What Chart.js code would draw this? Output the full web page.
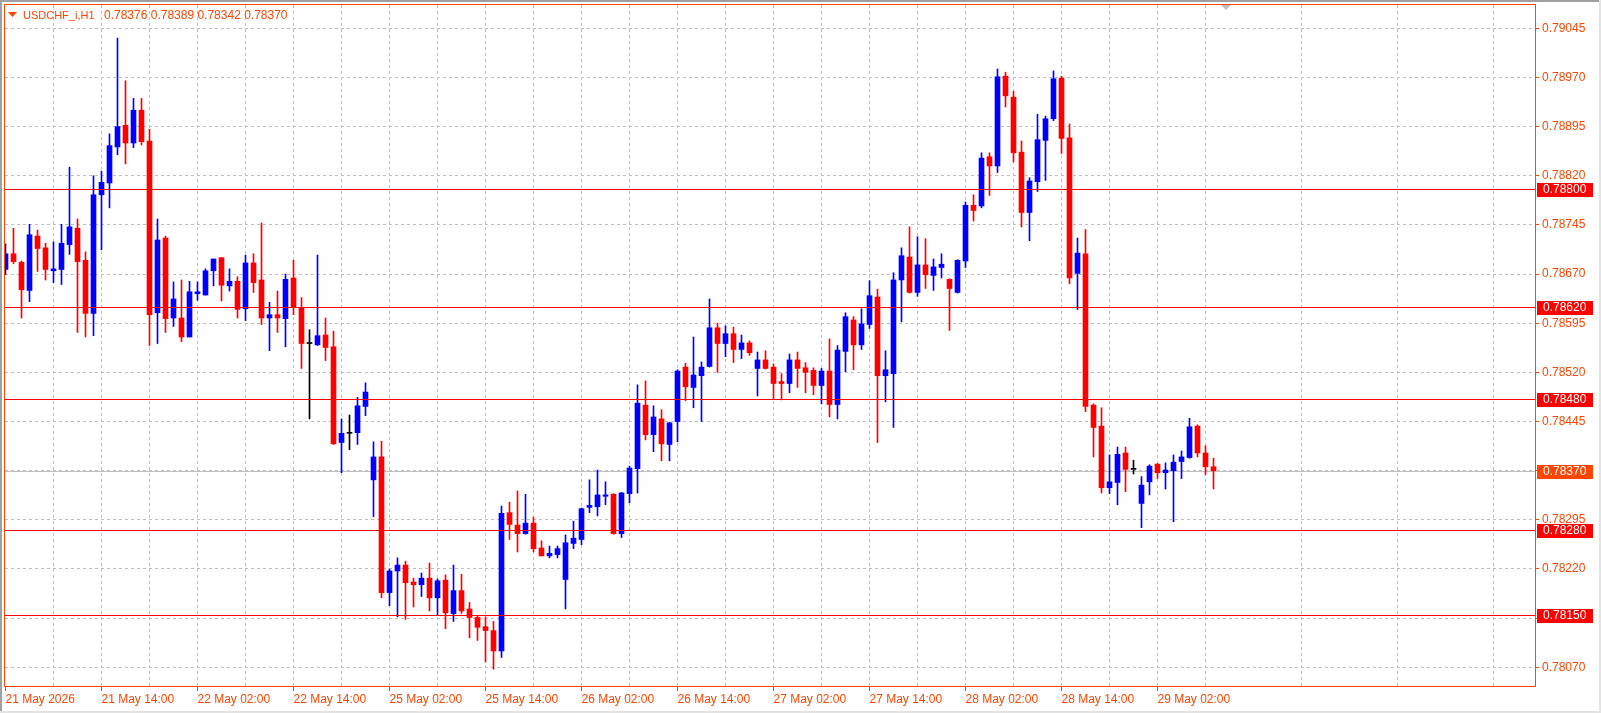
<!DOCTYPE html>
<html><head><meta charset="utf-8">
<script src="https://cdn.jsdelivr.net/npm/chart.js@4.4.1/dist/chart.umd.min.js"></script>
<style>
html,body{margin:0;padding:0;background:#fff;}
#wrap{position:relative;width:1601px;height:713px;overflow:hidden;}
canvas{display:block;}
.edge{position:absolute;pointer-events:none;}
</style></head><body>
<div id="wrap"><canvas id="c" width="1601" height="713"></canvas>
<div class="edge" style="left:0;top:0;width:1601px;height:2px;background:#A0A0A0"></div>
<div class="edge" style="left:0;top:0;width:2px;height:713px;background:#A0A0A0"></div>
<div class="edge" style="left:0;top:711px;width:1601px;height:2px;background:#E3E3E3"></div>
<div class="edge" style="left:1599px;top:0;width:2px;height:713px;background:#E3E3E3"></div>
</div>
<script>
const symbolName = 'USDCHF_i,H1';

const openP = [
0.78677,0.78701,0.78688,0.78645,0.78728,0.78710,0.78675,0.78677,0.78715,0.78740,
0.78691,0.78610,0.78791,0.78809,0.78864,0.78897,0.78870,0.78920,0.78873,0.78611,
0.78725,0.78603,0.78603,0.78574,0.78640,0.78638,0.78675,0.78695,0.78652,0.78659,
0.78617,0.78687,0.78661,0.78603,0.78608,0.78602,0.78664,0.78619,0.78564,0.78562,
0.78577,0.78559,0.78413,0.78427,0.78428,0.78468,0.78356,0.78391,0.78184,0.78217,
0.78226,0.78200,0.78196,0.78206,0.78176,0.78203,0.78152,0.78187,0.78159,0.78146,
0.78132,0.78126,0.78095,0.78306,0.78287,0.78274,0.78290,0.78252,0.78240,0.78242,
0.78204,0.78259,0.78265,0.78314,0.78315,0.78331,0.78334,0.78274,0.78335,0.78373,
0.78470,0.78425,0.78449,0.78410,0.78445,0.78528,0.78497,0.78515,0.78529,0.78588,
0.78564,0.78579,0.78555,0.78565,0.78526,0.78539,0.78528,0.78506,0.78503,0.78539,
0.78527,0.78523,0.78500,0.78522,0.78471,0.78552,0.78600,0.78562,0.78593,0.78635,
0.78515,0.78518,0.78661,0.78696,0.78642,0.78684,0.78668,0.78680,0.78662,0.78642,
0.78690,0.78775,0.78774,0.78849,0.78835,0.78972,0.78940,0.78856,0.78764,0.78811,
0.78874,0.78907,0.78969,0.78878,0.78671,0.78701,0.78470,0.78438,0.78344,0.78352,
0.78397,0.78372,0.78320,0.78353,0.78380,0.78367,0.78370,0.78384,0.78390,0.78438,
0.78397,0.78376];
const highP = [
0.78716,0.78740,0.78690,0.78746,0.78737,0.78717,0.78719,0.78746,0.78833,0.78754,
0.78704,0.78820,0.78827,0.78884,0.79030,0.78965,0.78938,0.78938,0.78891,0.78754,
0.78728,0.78658,0.78661,0.78659,0.78658,0.78678,0.78693,0.78695,0.78678,0.78666,
0.78699,0.78701,0.78748,0.78627,0.78644,0.78670,0.78691,0.78634,0.78585,0.78699,
0.78603,0.78583,0.78449,0.78455,0.78482,0.78504,0.78414,0.78415,0.78220,0.78237,
0.78232,0.78206,0.78214,0.78229,0.78205,0.78211,0.78226,0.78212,0.78169,0.78149,
0.78147,0.78140,0.78316,0.78322,0.78339,0.78334,0.78299,0.78263,0.78255,0.78255,
0.78272,0.78293,0.78313,0.78356,0.78371,0.78353,0.78335,0.78337,0.78377,0.78501,
0.78507,0.78469,0.78463,0.78444,0.78524,0.78534,0.78574,0.78536,0.78632,0.78595,
0.78591,0.78589,0.78577,0.78568,0.78551,0.78553,0.78533,0.78518,0.78548,0.78551,
0.78535,0.78527,0.78526,0.78571,0.78561,0.78611,0.78605,0.78617,0.78660,0.78647,
0.78553,0.78672,0.78710,0.78742,0.78727,0.78724,0.78693,0.78701,0.78663,0.78692,
0.78780,0.78791,0.78855,0.78855,0.78983,0.78978,0.78949,0.78873,0.78817,0.78914,
0.78911,0.78980,0.78972,0.78899,0.78725,0.78738,0.78472,0.78466,0.78394,0.78406,
0.78406,0.78386,0.78361,0.78379,0.78381,0.78382,0.78394,0.78400,0.78450,0.78440,
0.78408,0.78389];
const lowP = [
0.78669,0.78686,0.78603,0.78628,0.78674,0.78661,0.78657,0.78654,0.78700,0.78581,
0.78574,0.78576,0.78707,0.78771,0.78852,0.78838,0.78863,0.78867,0.78561,0.78564,
0.78581,0.78590,0.78567,0.78574,0.78630,0.78638,0.78652,0.78629,0.78644,0.78603,
0.78599,0.78642,0.78593,0.78553,0.78581,0.78559,0.78608,0.78526,0.78449,0.78561,
0.78538,0.78410,0.78367,0.78402,0.78410,0.78454,0.78300,0.78176,0.78164,0.78147,
0.78143,0.78162,0.78178,0.78156,0.78149,0.78129,0.78140,0.78152,0.78115,0.78111,
0.78078,0.78067,0.78085,0.78265,0.78246,0.78273,0.78246,0.78240,0.78237,0.78237,
0.78159,0.78251,0.78257,0.78306,0.78301,0.78318,0.78273,0.78268,0.78321,0.78336,
0.78417,0.78399,0.78385,0.78385,0.78414,0.78477,0.78466,0.78445,0.78528,0.78520,
0.78544,0.78535,0.78541,0.78546,0.78484,0.78525,0.78480,0.78478,0.78489,0.78497,
0.78489,0.78486,0.78472,0.78452,0.78449,0.78521,0.78524,0.78555,0.78587,0.78413,
0.78475,0.78436,0.78597,0.78641,0.78636,0.78648,0.78645,0.78664,0.78584,0.78641,
0.78680,0.78751,0.78771,0.78790,0.78825,0.78925,0.78841,0.78742,0.78721,0.78796,
0.78813,0.78904,0.78854,0.78655,0.78616,0.78460,0.78391,0.78336,0.78335,0.78318,
0.78338,0.78365,0.78283,0.78333,0.78358,0.78342,0.78292,0.78358,0.78389,0.78391,
0.78364,0.78342];
const closeP = [
0.78701,0.78689,0.78646,0.78730,0.78709,0.78677,0.78678,0.78717,0.78742,0.78689,
0.78610,0.78791,0.78810,0.78866,0.78895,0.78870,0.78920,0.78872,0.78608,0.78722,
0.78602,0.78632,0.78574,0.78643,0.78643,0.78675,0.78693,0.78653,0.78659,0.78616,
0.78687,0.78657,0.78603,0.78608,0.78603,0.78662,0.78619,0.78564,0.78564,0.78576,
0.78558,0.78411,0.78427,0.78427,0.78469,0.78490,0.78391,0.78184,0.78217,0.78226,
0.78199,0.78196,0.78206,0.78176,0.78202,0.78153,0.78187,0.78156,0.78146,0.78131,
0.78126,0.78095,0.78305,0.78288,0.78274,0.78290,0.78251,0.78240,0.78244,0.78251,
0.78260,0.78267,0.78312,0.78317,0.78333,0.78333,0.78274,0.78336,0.78374,0.78473,
0.78425,0.78452,0.78411,0.78443,0.78522,0.78498,0.78516,0.78528,0.78588,0.78564,
0.78579,0.78555,0.78565,0.78550,0.78539,0.78526,0.78503,0.78503,0.78539,0.78526,
0.78520,0.78500,0.78522,0.78471,0.78554,0.78605,0.78562,0.78594,0.78637,0.78515,
0.78524,0.78661,0.78698,0.78642,0.78684,0.78669,0.78681,0.78685,0.78648,0.78691,
0.78775,0.78767,0.78847,0.78835,0.78971,0.78942,0.78855,0.78764,0.78812,0.78875,
0.78907,0.78968,0.78877,0.78664,0.78702,0.78468,0.78436,0.78344,0.78353,0.78395,
0.78372,0.78372,0.78348,0.78377,0.78367,0.78371,0.78383,0.78391,0.78437,0.78397,
0.78376,0.78370];

const xTickLabels = ['21 May 2026','21 May 14:00','22 May 02:00','22 May 14:00','25 May 02:00',
  '25 May 14:00','26 May 02:00','26 May 14:00','27 May 02:00','27 May 14:00','28 May 02:00',
  '28 May 14:00','29 May 02:00'];
const yTickValues = [0.79045,0.78970,0.78895,0.78820,0.78745,0.78670,0.78595,0.78520,
  0.78445,0.78370,0.78295,0.78220,0.78145,0.78070];
const levelLines = [0.78800,0.78620,0.78480,0.78280,0.78150];
const bidPrice = 0.78370;

const ORANGE = '#FF4500';
const GRID = '#C0C0C0';
const FONT = "'Liberation Sans', Arial, sans-serif";

const idx = openP.map((_, i) => i);
const candleColor = idx.map(i => closeP[i] > openP[i] ? '#0000FF' : (closeP[i] < openP[i] ? '#FF0000' : '#000000'));
const xGridTicks = [];
for (let v = 0; v <= 186; v += 6) xGridTicks.push(v);

const overlay = {
  id: 'overlay',
  beforeDatasetsDraw(chart) {
    const {ctx, chartArea: a, scales: {y}} = chart;
    ctx.save();
    const yb = Math.round(y.getPixelForValue(bidPrice)) + 0.5;
    ctx.strokeStyle = GRID; ctx.lineWidth = 1;
    ctx.beginPath(); ctx.moveTo(a.left, yb); ctx.lineTo(a.right, yb); ctx.stroke();
    ctx.restore();
  },
  afterDatasetsDraw(chart) {
    const {ctx, chartArea: a, scales: {y}} = chart;
    ctx.save();
    ctx.strokeStyle = '#FF0000'; ctx.lineWidth = 1;
    levelLines.forEach(v => {
      const py = Math.round(y.getPixelForValue(v)) + 0.5;
      ctx.beginPath(); ctx.moveTo(a.left, py); ctx.lineTo(a.right, py); ctx.stroke();
    });
    ctx.restore();
  },
  afterDraw(chart) {
    const {ctx, chartArea: a, scales: {y}} = chart;
    ctx.save();
    ctx.strokeStyle = ORANGE; ctx.lineWidth = 1;
    ctx.strokeRect(a.left - 0.5, a.top - 0.5, a.right - a.left + 1, a.bottom - a.top + 1);
    ctx.font = '12px ' + FONT;
    ctx.textBaseline = 'middle'; ctx.textAlign = 'left';
    const box = (v, bg) => {
      const py = Math.round(y.getPixelForValue(v));
      ctx.fillStyle = bg;
      ctx.fillRect(a.right + 2, py - 6, 56, 14);
      ctx.fillStyle = '#FFFFFF';
      ctx.fillText(v.toFixed(5), a.right + 8, py + 1);
    };
    levelLines.forEach(v => box(v, '#FF0000'));
    box(bidPrice, ORANGE);
    ctx.fillStyle = ORANGE;
    ctx.beginPath(); ctx.moveTo(8, 12); ctx.lineTo(17, 12); ctx.lineTo(12.5, 17); ctx.closePath(); ctx.fill();
    const n = closeP.length - 1;
    ctx.font = '11px ' + FONT;
    ctx.fillText(symbolName, 23, 16);
    ctx.font = '12px ' + FONT;
    ctx.fillText([openP[n], highP[n], lowP[n], closeP[n]].map(v => v.toFixed(5)).join(' '), 104, 16);
    ctx.fillStyle = '#C0C0C0';
    ctx.beginPath(); ctx.moveTo(1221, 5); ctx.lineTo(1231, 5); ctx.lineTo(1226, 10); ctx.closePath(); ctx.fill();
    ctx.restore();
  }
};

new Chart(document.getElementById('c').getContext('2d'), {
  type: 'bar',
  data: {
    datasets: [
      { label: 'wick', data: idx.map(i => ({x: i, y: [lowP[i], highP[i]]})),
        backgroundColor: candleColor, barThickness: 1, grouped: false, borderWidth: 0, minBarLength: 1 },
      { label: 'body', data: idx.map(i => ({x: i, y: [openP[i], closeP[i]]})),
        backgroundColor: candleColor, barThickness: 5, grouped: false, borderWidth: 0, minBarLength: 1 }
    ]
  },
  options: {
    responsive: false, animation: false, devicePixelRatio: 1,
    layout: {padding: {left: 5, top: 5, right: 0, bottom: 0}},
    plugins: {legend: {display: false}, tooltip: {enabled: false}, title: {display: false}},
    scales: {
      x: {
        type: 'linear', min: -0.0625, max: 191.1875, offset: false,
        afterBuildTicks: s => { s.ticks = xGridTicks.map(v => ({value: v})); },
        afterFit: s => { s.height = 27; s.paddingLeft = 0; s.paddingRight = 0; },
        grid: {
          offset: false, lineWidth: 1, tickLength: 5, tickBorderDash: [],
          color: c => (c.tick && c.tick.value === 0) ? 'rgba(0,0,0,0)' : GRID,
          tickColor: c => (c.tick && c.tick.value % 12 === 0) ? ORANGE : 'rgba(0,0,0,0)'
        },
        border: {display: false, dash: [3, 3]},
        ticks: {
          autoSkip: false, maxRotation: 0, minRotation: 0, align: 'start', padding: 1,
          color: ORANGE, font: {family: FONT, size: 12},
          callback: v => (v % 12 === 0) ? xTickLabels[v / 12] : ''
        }
      },
      y: {
        position: 'right', min: 0.7804147, max: 0.7908055,
        afterBuildTicks: s => { s.ticks = yTickValues.map(v => ({value: v})); },
        afterFit: s => { s.width = 66; s.paddingTop = 0; s.paddingBottom = 0; },
        grid: {color: GRID, lineWidth: 1, tickLength: 4, tickColor: ORANGE, tickBorderDash: []},
        border: {display: false, dash: [3, 3]},
        ticks: {color: ORANGE, padding: 3, font: {family: FONT, size: 12}, callback: v => v.toFixed(5)}
      }
    }
  },
  plugins: [overlay]
});
</script>
</body></html>
